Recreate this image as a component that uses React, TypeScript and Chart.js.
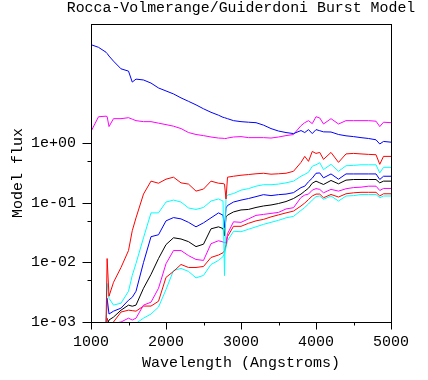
import { useEffect, useRef } from "react";
import { Chart, registerables } from "chart.js";

Chart.register(...registerables);

const FONT = "'Liberation Mono', 'DejaVu Sans Mono', monospace";

const chartTitle = "Rocca-Volmerange/Guiderdoni Burst Model";
const xTitle = "Wavelength (Angstroms)";
const yTitle = "Model flux";

const xLabelTicks = [1000, 2000, 3000, 4000, 5000];
const xAllTicks = [1000, 1500, 2000, 2500, 3000, 3500, 4000, 4500, 5000];
const yAllTicks = [0.001, 0.005, 0.01, 0.05, 0.1, 0.5, 1];

const wavelengths = [
  1000, 1100, 1200, 1215, 1240, 1300, 1400, 1500, 1550, 1600,
  1700, 1800, 1900, 2000, 2100, 2200, 2300, 2400, 2500, 2600,
  2700, 2760, 2780, 2800, 2820, 2900, 3000, 3100, 3200, 3300,
  3400, 3500, 3600, 3700, 3800, 3850, 3900, 3950, 4000, 4050,
  4100, 4200, 4300, 4400, 4500, 4600, 4700, 4800, 4850, 4900, 5000,
];

const blueTop = [
  45, 40.6, 33.6, 32, 29, 23.8, 17.7, 16.2, 10.6, 11.9,
  11.5, 10.2, 8.45, 7.53, 6.71, 5.76, 5.04, 4.4, 3.78, 3.3,
  2.95, 2.72, 2.68, 2.63, 2.58, 2.39, 2.3, 2.25, 2.21, 2.01,
  1.76, 1.6, 1.51, 1.45, 1.63, 1.51, 1.69, 1.45, 1.69, 1.62,
  1.55, 1.54, 1.4, 1.33, 1.29, 1.24, 1.2, 1.14, 0.97, 1.07, 1.04,
];

const magentaTop = [
  1.57, 2.78, 2.84, 2.8, 1.9, 2.58, 2.58, 2.68, 2.53, 2.39,
  2.3, 2.3, 2.17, 2.05, 1.93, 1.76, 1.51, 1.4, 1.34, 1.27,
  1.22, 1.21, 1.2, 1.2, 1.22, 1.27, 1.29, 1.24, 1.24, 1.24,
  1.22, 1.27, 1.34, 1.4, 1.97, 2.21, 2.39, 2.13, 2.78, 2.65,
  2.1, 2.58, 2.1, 2.39, 2.39, 2.39, 2.39, 2.34, 1.9, 2.25, 2.21,
];

const redUpper = [
  null, null, 0.0008, 0.0116, 0.00271, 0.00463, 0.00822, 0.0158, 0.034, 0.0559,
  0.14, 0.231, 0.213, 0.249, 0.269, 0.216, 0.206, 0.157, 0.17, 0.231,
  0.213, 0.21, 0.206, 0.116, 0.269, 0.279, 0.29, 0.298, 0.307, 0.313,
  0.302, 0.307, 0.313, 0.338, 0.477, 0.601, 0.496, 0.727, 0.674, 0.7,
  0.535, 0.7, 0.477, 0.661, 0.674, 0.661, 0.649, 0.641, 0.442, 0.601, 0.601,
];

const cyanUpper = [
  null, null, 0.0008, 0.00445, 0.0025, 0.00192, 0.00207, 0.00328, 0.00605, 0.0096,
  0.0259, 0.0677, 0.0677, 0.103, 0.111, 0.103, 0.0819, 0.0774, 0.0835, 0.107,
  0.116, 0.107, 0.006, 0.125, 0.135, 0.143, 0.163, 0.173, 0.19, 0.201,
  0.201, 0.206, 0.216, 0.231, 0.279, 0.3, 0.325, 0.41, 0.434, 0.47,
  0.361, 0.442, 0.338, 0.418, 0.425, 0.434, 0.434, 0.434, 0.317, 0.394, 0.394,
];

const blueLower = [
  null, null, 0.0008, 0.0025, 0.00136, 0.00152, 0.00171, 0.00232, 0.0026, 0.00328,
  0.00996, 0.027, 0.0291, 0.0498, 0.0565, 0.0537, 0.047, 0.0395, 0.0461, 0.0559,
  0.0677, 0.062, 0.0385, 0.0819, 0.09, 0.103, 0.111, 0.118, 0.127, 0.137,
  0.132, 0.137, 0.14, 0.148, 0.18, 0.19, 0.226, 0.259, 0.313, 0.317,
  0.262, 0.305, 0.249, 0.305, 0.305, 0.305, 0.305, 0.305, 0.246, 0.279, 0.279,
];

const blackMid = [
  null, null, 0.0008, 0.0009, 0.00108, 0.00121, 0.00158, 0.00192, 0.00184, 0.00192,
  0.00368, 0.00629, 0.0116, 0.0199, 0.0259, 0.0247, 0.0223, 0.0184, 0.0202, 0.0366,
  0.0395, 0.037, 0.028, 0.058, 0.062, 0.0703, 0.0759, 0.0774, 0.0835, 0.0885,
  0.0919, 0.0973, 0.105, 0.118, 0.14, 0.157, 0.176, 0.213, 0.231, 0.216,
  0.203, 0.237, 0.208, 0.24, 0.246, 0.246, 0.246, 0.246, 0.216, 0.231, 0.231,
];

const magentaLower = [
  null, null, 0.0007, 0.0008, 0.0009, 0.00095, 0.001, 0.00116, 0.00108, 0.00116,
  0.00192, 0.00215, 0.00368, 0.0095, 0.0158, 0.0158, 0.013, 0.0112, 0.0108, 0.0206,
  0.0231, 0.022, 0.0214, 0.0214, 0.0303, 0.048, 0.047, 0.0537, 0.0615, 0.0639,
  0.0664, 0.069, 0.0788, 0.0828, 0.123, 0.135, 0.14, 0.163, 0.173, 0.168,
  0.147, 0.168, 0.157, 0.172, 0.18, 0.183, 0.19, 0.19, 0.161, 0.174, 0.174,
];

const redLower = [
  null, null, 0.0008, 0.00116, 0.0009, 0.001, 0.00147, 0.00158, 0.00155, 0.00152,
  0.00185, 0.00185, 0.00223, 0.00561, 0.00706, 0.00923, 0.00822, 0.00822, 0.00855, 0.0121,
  0.0133, 0.0145, 0.0158, 0.0199, 0.027, 0.0403, 0.0403, 0.0453, 0.0498, 0.0527,
  0.058, 0.0627, 0.0677, 0.0726, 0.0885, 0.0992, 0.1135, 0.13, 0.14, 0.14,
  0.1215, 0.138, 0.125, 0.1416, 0.147, 0.15, 0.15, 0.15, 0.13, 0.1416, 0.1416,
];

const cyanLower = [
  null, null, 0.0007, 0.0008, 0.0008, 0.0008, 0.0008, 0.0009, 0.0009, 0.00095,
  0.00116, 0.00136, 0.00178, 0.0035, 0.00733, 0.00792, 0.00706, 0.0055, 0.00605, 0.00923,
  0.0108, 0.0125, 0.0141, 0.0177, 0.0231, 0.0333, 0.0327, 0.036, 0.0395, 0.0435,
  0.047, 0.0508, 0.0559, 0.0592, 0.0745, 0.0835, 0.0955, 0.111, 0.127, 0.13,
  0.1143, 0.13, 0.107, 0.13, 0.132, 0.1375, 0.1375, 0.1375, 0.1215, 0.13, 0.13,
];

const seriesList = [
  { name: "blueTop", color: "#0000ff", values: blueTop },
  { name: "magentaTop", color: "#ff00ff", values: magentaTop },
  { name: "redUpper", color: "#ff0000", values: redUpper },
  { name: "cyanUpper", color: "#00ffff", values: cyanUpper },
  { name: "blueLower", color: "#0000ff", values: blueLower },
  { name: "blackMid", color: "#000000", values: blackMid },
  { name: "magentaLower", color: "#ff00ff", values: magentaLower },
  { name: "redLower", color: "#ff0000", values: redLower },
  { name: "cyanLower", color: "#00ffff", values: cyanLower },
];

function isDecade(v: number) {
  const l = Math.log10(v);
  return Math.abs(l - Math.round(l)) < 1e-6;
}

function expLabel(v: number) {
  const e = Math.round(Math.log10(v));
  const sign = e < 0 ? "-" : "+";
  return "1e" + sign + String(Math.abs(e)).padStart(2, "0");
}

const framePlugin = {
  id: "frameTicks",
  afterDraw(chart: any) {
    const { ctx, chartArea: a, scales } = chart;
    const xs = scales.x;
    const ys = scales.y;
    ctx.save();
    ctx.strokeStyle = "#000";
    ctx.lineWidth = 1;
    ctx.strokeRect(a.left + 0.5, a.top + 0.5, a.right - a.left, a.bottom - a.top);
    ctx.beginPath();
    for (const v of xAllTicks) {
      const px = Math.round(xs.getPixelForValue(v)) + 0.5;
      const len = v % 1000 === 0 ? 7 : 3;
      ctx.moveTo(px, a.bottom + 0.5);
      ctx.lineTo(px, a.bottom + 0.5 + len);
    }
    for (const v of yAllTicks) {
      const py = Math.round(ys.getPixelForValue(v)) + 0.5;
      const len = isDecade(v) ? 9 : 4;
      ctx.moveTo(a.left + 0.5, py);
      ctx.lineTo(a.left + 0.5 - len, py);
    }
    ctx.stroke();
    // chart title, centred over the plot area
    ctx.fillStyle = "#000";
    ctx.font = "14.9px " + FONT;
    ctx.textAlign = "center";
    ctx.textBaseline = "middle";
    ctx.fillText(chartTitle, (a.left + a.right) / 2, 8.5);
    ctx.restore();
  },
};

export default function App() {
  const canvasRef = useRef<HTMLCanvasElement | null>(null);

  useEffect(() => {
    document.body.style.margin = "0";
    const canvas = canvasRef.current;
    if (!canvas) return;
    const chart = new Chart(canvas, {
      type: "line",
      data: {
        datasets: seriesList.map((s) => ({
          label: s.name,
          data: wavelengths.map((x, i) => ({ x, y: s.values[i] })),
          borderColor: s.color,
          backgroundColor: s.color,
          borderWidth: 1,
          pointRadius: 0,
          tension: 0,
          fill: false,
          spanGaps: false,
        })),
      },
      options: {
        responsive: false,
        animation: false,
        devicePixelRatio: 1,
        layout: { padding: { left: 0, right: 37, top: 22, bottom: 0 } },
        plugins: {
          legend: { display: false },
          tooltip: { enabled: false },
          title: { display: false },
        },
        scales: {
          x: {
            type: "linear",
            min: 1000,
            max: 5000,
            afterFit: (s: any) => {
              s.height = 58;
            },
            afterBuildTicks: (s: any) => {
              s.ticks = xLabelTicks.map((v) => ({ value: v }));
            },
            grid: { display: false, drawTicks: false },
            border: { display: false },
            ticks: {
              autoSkip: false,
              maxRotation: 0,
              padding: 11,
              color: "#000",
              font: { family: FONT, size: 15 },
              callback: (v: any) => String(v),
            },
            title: {
              display: true,
              text: xTitle,
              color: "#000",
              font: { family: FONT, size: 15 },
              padding: { top: 0, bottom: 8 },
            },
          },
          y: {
            type: "logarithmic",
            min: 0.001,
            max: 100,
            afterFit: (s: any) => {
              s.width = 91;
            },
            afterBuildTicks: (s: any) => {
              s.ticks = yAllTicks.map((v) => ({ value: v }));
            },
            grid: { display: false, drawTicks: false },
            border: { display: false },
            ticks: {
              autoSkip: false,
              padding: 15,
              color: "#000",
              font: { family: FONT, size: 15 },
              callback: (v: any) => (isDecade(Number(v)) ? expLabel(Number(v)) : ""),
            },
            title: {
              display: true,
              text: yTitle,
              color: "#000",
              font: { family: FONT, size: 15 },
              padding: { top: 9, bottom: 0 },
            },
          },
        },
      },
      plugins: [framePlugin],
    } as any);
    return () => chart.destroy();
  }, []);

  return (
    <div style={{ width: 428, height: 380, background: "#fff" }}>
      <canvas ref={canvasRef} width={428} height={380} style={{ display: "block" }} />
    </div>
  );
}
